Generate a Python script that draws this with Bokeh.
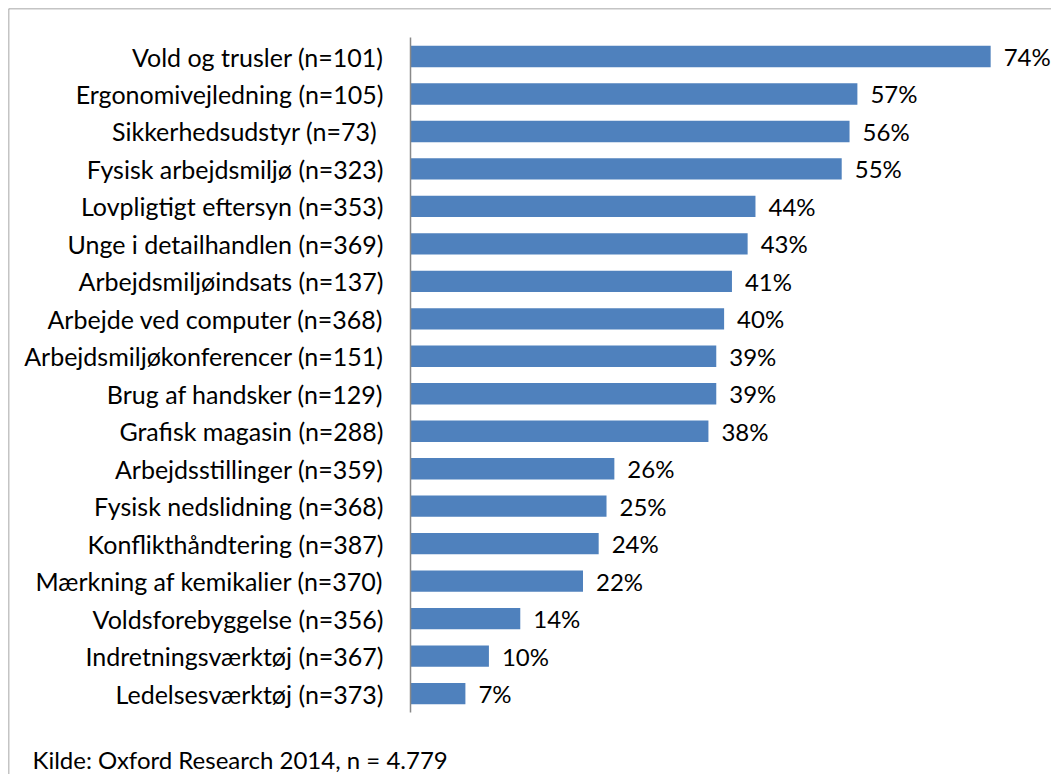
from bokeh.plotting import figure
from bokeh.models import Range1d, LinearAxis, FixedTicker, Label, ColumnDataSource, Span
from bokeh.core.properties import value
from bokeh.embed import file_html
from bokeh.resources import INLINE

categories = [
    "Vold og trusler (n=101)",
    "Ergonomivejledning (n=105)",
    "Sikkerhedsudstyr  (n=73)",
    "Fysisk arbejdsmiljø (n=323)",
    "Lovpligtigt eftersyn (n=353)",
    "Unge i detailhandlen (n=369)",
    "Arbejdsmiljøindsats (n=137)",
    "Arbejde ved computer (n=368)",
    "Arbejdsmiljøkonferencer (n=151)",
    "Brug af handsker (n=129)",
    "Grafisk magasin (n=288)",
    "Arbejdsstillinger (n=359)",
    "Fysisk nedslidning (n=368)",
    "Konflikthåndtering (n=387)",
    "Mærkning af kemikalier (n=370)",
    "Voldsforebyggelse (n=356)",
    "Indretningsværktøj (n=367)",
    "Ledelsesværktøj (n=373)",
]
values = [74, 57, 56, 55, 44, 43, 41, 40, 39, 39, 38, 26, 25, 24, 22, 14, 10, 7]
source_note = "Kilde: Oxford Research 2014, n = 4.779"

FONT = "Lato"
FS = "25px"
BLUE = "#4F81BD"
GRAY = "#898989"

idx = list(range(len(categories)))
src = ColumnDataSource(dict(y=idx, v=values, lab=[f"{v}%" for v in values]))

X0, X1 = -51.28, 81.76
Y_BOTTOM, Y_TOP = 19.16, -1.281

p = figure(width=1051, height=774,
           x_range=Range1d(X0, X1), y_range=Range1d(Y_BOTTOM, Y_TOP),
           output_backend="svg", toolbar_location=None,
           min_border_left=8, min_border_top=8, min_border_right=0, min_border_bottom=0,
           x_axis_location=None, y_axis_location=None)
p.grid.visible = False
p.outline_line_color = None
p.background_fill_color = "white"
p.border_fill_color = "white"

# frame border (left and top visible, as in the cropped original)
p.add_layout(Span(location=X0, dimension="height", line_color=GRAY, line_width=1.5))
p.add_layout(Span(location=Y_TOP, dimension="width", line_color=GRAY, line_width=1.5))

p.hbar(y="y", left=0, right="v", height=0.57, source=src, fill_color=BLUE, line_color=None)
p.text(x="v", y="y", text="lab", source=src, x_offset=13, text_baseline="middle",
       text_align="left", text_font=value(FONT), text_font_size="24px", text_color="black")

yaxis = LinearAxis(fixed_location=0, ticker=FixedTicker(ticks=idx),
                   major_label_overrides={i: c for i, c in zip(idx, categories)},
                   bounds=(-0.5, len(categories) - 0.5),
                   axis_line_color=GRAY, axis_line_width=1.5,
                   major_tick_line_color=None, minor_tick_line_color=None,
                   major_tick_in=0, major_tick_out=0,
                   major_label_standoff=27,
                   major_label_text_font=FONT, major_label_text_font_size=FS,
                   major_label_text_color="black")
p.add_layout(yaxis, "left")

p.add_layout(Label(x=24, y=15, x_units="screen", y_units="screen", text=source_note,
                   text_baseline="middle", text_font=FONT, text_font_size="24px",
                   text_color="black"))

open("out.html", "w").write(file_html(p, INLINE))
